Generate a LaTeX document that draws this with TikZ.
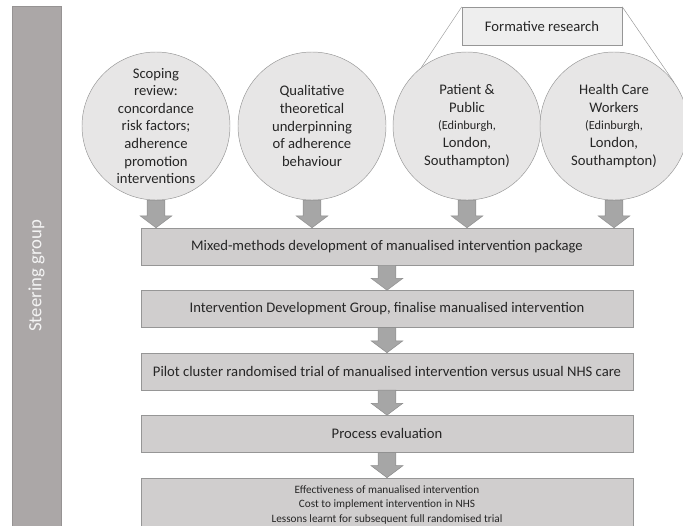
\documentclass[tikz,border=0pt]{standalone}
\usepackage{fontspec}
\setmainfont{Carlito}
\usetikzlibrary{positioning,calc}
\definecolor{textgray}{RGB}{38,38,38}
\definecolor{edgegray}{RGB}{150,150,150}
\definecolor{bubblegray}{RGB}{231,230,230}
\definecolor{boxgray}{RGB}{208,206,206}
\definecolor{framegray}{RGB}{238,238,238}
\definecolor{arrowgray}{RGB}{166,166,166}
\definecolor{arrowedge}{RGB}{140,140,140}
\definecolor{bargray}{RGB}{171,167,167}
\definecolor{bardark}{RGB}{150,147,147}
\definecolor{bartext}{RGB}{244,244,244}
\newcommand\smalltxt{\fontsize{10.5}{15}\selectfont}
\begin{document}
\begin{tikzpicture}[x=0.03cm,y=-0.03cm,node distance=0.75cm,
    every node/.style={text=textgray},
    bubble/.style={shape=circle, draw=edgegray, fill=bubblegray, minimum size=4.44cm, inner sep=0},
    bubtext/.style={align=center, font=\fontsize{12.5}{15}\selectfont},
    stage/.style={draw=edgegray, fill=boxgray, minimum width=14.76cm, minimum height=1.11cm, inner sep=0, font=\fontsize{12.5}{14}\selectfont},
    bigarrow/.style={draw=arrowedge, fill=arrowgray,
      to path={let \p1=(\tikztostart), \p2=(\tikztotarget) in
        (\x1-7.6pt,\y1) -- (\x1+7.6pt,\y1) -- (\x1+7.6pt,\y2+10.2pt) -- (\x1+13.6pt,\y2+10.2pt)
        -- (\x1,\y2) -- (\x1-13.6pt,\y2+10.2pt) -- (\x1-7.6pt,\y2+10.2pt) -- cycle}}]
    \useasboundingbox (0,0) rectangle (683,525);

    \node (steer) [rotate=90, draw=bardark, fill=bargray, minimum width=16.2cm, minimum height=1.47cm,
        text=bartext, font=\fontsize{16}{18}\selectfont] at (36.5,276) {Steering group};

    % formative research callout
    \node (fr) [draw=edgegray, fill=framegray, minimum width=4.8cm, minimum height=1.14cm,
        font=\fontsize{12.5}{15}\selectfont] at (542,26) {Formative research};

    \node (c1) [bubble] at (156,126) {};
    \node (c2) [bubble] at (312,126) {};
    \node (c3) [bubble] at (467,126) {};
    \node (c4) [bubble] at (614,126) {};
    \draw[edgegray] (fr.north west) -- (c3.128);
    \draw[edgegray] (fr.north east) -- (c4.36);

    \node (t1) [bubtext] at (c1) {Scoping\\review:\\concordance\\risk factors;\\adherence\\promotion\\interventions};
    \node (t2) [bubtext] at (c2) {Qualitative\\theoretical\\underpinning\\of adherence\\behaviour};
    \node (t3) [bubtext] at (c3) {Patient \&\\Public\\\smalltxt(Edinburgh,\\London,\\Southampton)};
    \node (t4) [bubtext] at (c4) {Health Care\\Workers\\\smalltxt(Edinburgh,\\London,\\Southampton)};

    \node (b1) [stage] at (387,246.5) {Mixed-methods development of manualised intervention package};
    \node (b2) [stage, below=of b1] {Intervention Development Group, finalise manualised intervention};
    \node (b3) [stage, below=of b2] {Pilot cluster randomised trial of manualised intervention versus usual NHS care};
    \node (b4) [stage, below=of b3] {Process evaluation};
    \node (b5) [stage, below=of b4, minimum height=1.62cm, align=center, font=\fontsize{9.6}{12.4}\selectfont]
        {Effectiveness of manualised intervention\\Cost to implement intervention in NHS\\Lessons learnt for subsequent full randomised trial};

    \draw[bigarrow] (c1.south) to (c1.south |- b1.north);
    \draw[bigarrow] (c2.south) to (c2.south |- b1.north);
    \draw[bigarrow] (c3.south) to (c3.south |- b1.north);
    \draw[bigarrow] (c4.south) to (c4.south |- b1.north);
    \draw[bigarrow] (b1.south) to (b2.north);
    \draw[bigarrow] (b2.south) to (b3.north);
    \draw[bigarrow] (b3.south) to (b4.north);
    \draw[bigarrow] (b4.south) to (b5.north);
\end{tikzpicture}
\end{document}
